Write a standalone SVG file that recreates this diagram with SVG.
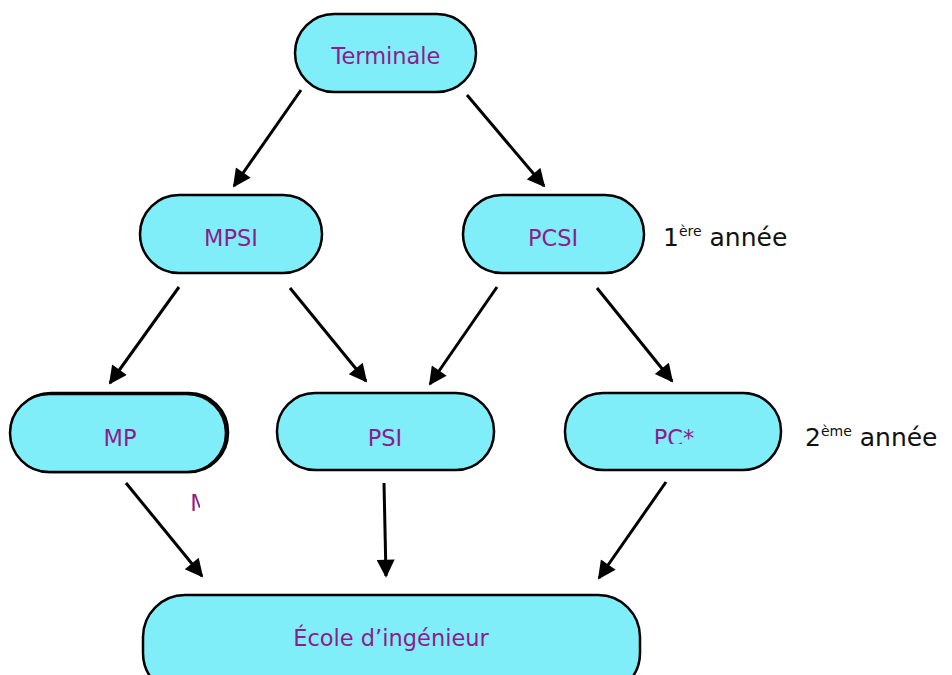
<svg xmlns="http://www.w3.org/2000/svg" width="952" height="675" viewBox="0 0 952 675">
<style>
.node{fill:#7FEEF9;stroke:#000;stroke-width:2.5}
.lbl{font-family:"DejaVu Sans","Liberation Sans",sans-serif;font-size:22.5px;fill:#8E1C8E;text-anchor:middle}
.side{font-family:"DejaVu Sans","Liberation Sans",sans-serif;font-size:25px;fill:#111}
.sup{font-size:14px}
.edge{stroke:#000;stroke-width:3;fill:none;marker-end:url(#ah)}
</style>
<defs>
<marker id="ah" viewBox="0 0 10 10" refX="9" refY="5" markerWidth="6.5" markerHeight="6" orient="auto" markerUnits="strokeWidth">
<path d="M0,0 L10,5 L0,10 z" fill="#000"/>
</marker>
<clipPath id="clipPC"><rect x="560" y="380" width="230" height="64"/></clipPath>
<clipPath id="clipM"><rect x="180" y="480" width="20" height="40"/></clipPath>
</defs>
<rect width="952" height="675" fill="#fff"/>
<g id="connectors">
<line class="edge" x1="301" y1="90" x2="234" y2="186"/>
<line class="edge" x1="467" y1="95" x2="544" y2="186"/>
<line class="edge" x1="179" y1="287" x2="110" y2="383"/>
<line class="edge" x1="290" y1="288" x2="366" y2="381"/>
<line class="edge" x1="497" y1="287" x2="430" y2="384"/>
<line class="edge" x1="597" y1="288" x2="672" y2="381"/>
<line class="edge" x1="126" y1="483" x2="202" y2="576"/>
<line class="edge" x1="384" y1="483" x2="386" y2="576"/>
<line class="edge" x1="666" y1="482" x2="599" y2="578"/>
</g>
<g id="terminale">
<rect class="node" x="295" y="14" width="181" height="78" rx="39"/>
<text class="lbl" x="386" y="64">Terminale</text>
</g>
<g id="mpsi">
<rect class="node" x="140" y="195" width="182" height="78" rx="39"/>
<text class="lbl" x="231" y="246">MPSI</text>
</g>
<g id="pcsi">
<rect class="node" x="463" y="195" width="181" height="78" rx="39"/>
<text class="lbl" x="553" y="246">PCSI</text>
</g>
<text class="side" x="663" y="246">1<tspan class="sup" dy="-10">ère</tspan><tspan dy="10"> année</tspan></text>
<g id="mp">
<rect class="node" x="12" y="393" width="216" height="79" rx="39"/>
<rect class="node" x="10" y="394" width="216" height="78" rx="39"/>
<text class="lbl" x="120" y="446">MP</text>
<text class="lbl" x="200" y="511" clip-path="url(#clipM)">M</text>
</g>
<g id="psi">
<rect class="node" x="277" y="393" width="217" height="77" rx="38"/>
<text class="lbl" x="385" y="446">PSI</text>
</g>
<g id="pcstar">
<rect class="node" x="565" y="393" width="216" height="77" rx="38"/>
<text class="lbl" x="674" y="446" clip-path="url(#clipPC)">PC*</text>
</g>
<text class="side" x="805" y="446">2<tspan class="sup" dy="-10">ème</tspan><tspan dy="10"> année</tspan></text>
<g id="ecole">
<rect class="node" x="143" y="595" width="497" height="100" rx="42"/>
<text class="lbl" x="391" y="646">École d’ingénieur</text>
</g>
</svg>
